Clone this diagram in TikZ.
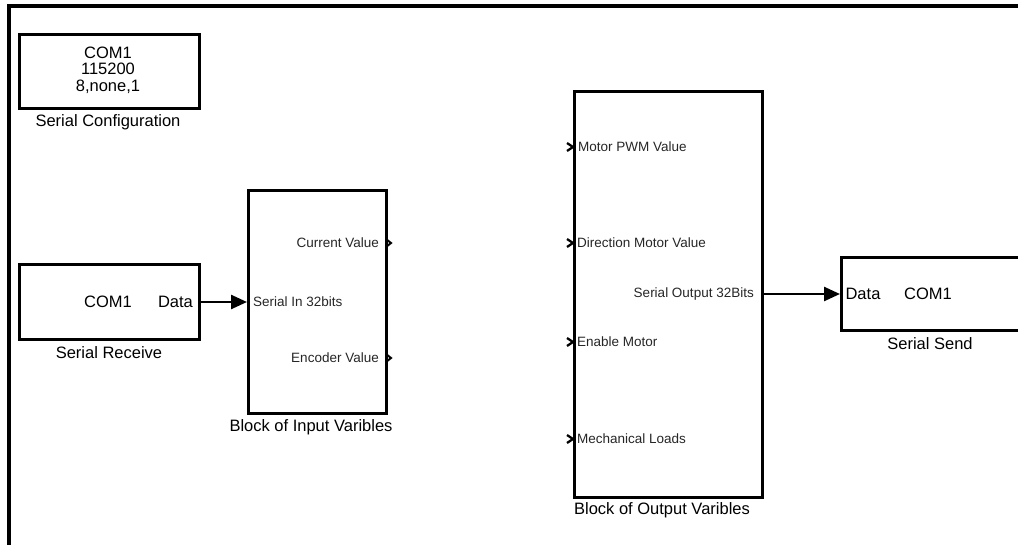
\documentclass[tikz,border=0pt]{standalone}
\usepackage{fontspec}
\setmainfont{Liberation Sans}
\usetikzlibrary{arrows.meta}
\begin{document}
\begin{tikzpicture}[x=1pt,y=-1pt,
  blk/.style={draw, line width=2.7pt, anchor=north west, inner sep=0pt},
  big/.style={font=\fontsize{16.5}{16.5}\selectfont, inner sep=0pt},
  small/.style={font=\fontsize{13.5}{13.5}\selectfont, inner sep=0pt, text=black!85},
  conn/.style={line width=2.5pt, -{Triangle[length=16pt,width=14pt]}},
  oport/.style={line width=2pt},
  iport/.style={line width=2.3pt},
  ]
\useasboundingbox (0,0) rectangle (1018,545);
% frame
\coordinate (fbl) at (9,548);
\coordinate (ftl) at (9,6);
\coordinate (ftr) at (1021,6);
\draw[line width=3.5pt] (fbl) -- (ftl) -- (ftr);

% Serial Configuration
\node[blk, minimum width=180pt, minimum height=74pt] (cfg) at (18,33) {};
\node[big, align=center] (cfgtxt) at (108,70) {COM1\\115200\\8,none,1};
\node[big] (cfglbl) at (108,122) {Serial Configuration};

% Serial Receive
\node[blk, minimum width=180pt, minimum height=75pt] (rcv) at (18,263) {};
\node[big] (rcvcom) at (108,302) {COM1};
\node[big] (rcvdata) at (175.5,302) {Data};
\node[big] (rcvlbl) at (109,353) {Serial Receive};

% Block of Input Varibles
\node[blk, minimum width=138pt, minimum height=223pt] (inb) at (247,189) {};
\node[big] (inblbl) at (311,427) {Block of Input Varibles};
\node[small, anchor=west] (insin) at (253,302) {Serial In 32bits};
\node[small, anchor=east] (incur) at (379,243) {Current Value};
\node[small, anchor=east] (inenc) at (379,358) {Encoder Value};
\coordinate (pcur) at (386,243);
\coordinate (penc) at (386,358);
\draw[oport] ([yshift=-4pt]pcur) -- ([xshift=5pt]pcur) -- ([yshift=4pt]pcur);
\draw[oport] ([yshift=-4pt]penc) -- ([xshift=5pt]penc) -- ([yshift=4pt]penc);

% Block of Output Varibles
\node[blk, minimum width=188pt, minimum height=406pt] (outb) at (573,90) {};
\node[big] (outblbl) at (662,510) {Block of Output Varibles};
\node[small, anchor=west] (opwm) at (578,147) {Motor PWM Value};
\node[small, anchor=west] (odir) at (577,243) {Direction Motor Value};
\node[small, anchor=west] (oena) at (577,342) {Enable Motor};
\node[small, anchor=west] (omech) at (577,439) {Mechanical Loads};
\node[small, anchor=east] (oser) at (754,294) {Serial Output 32Bits};
\foreach \yy/\nm in {147/ppwm,243/pdir,342/pena,439/pmech}{
  \coordinate (\nm) at (567,\yy);
  \draw[iport] ([yshift=-4pt]\nm) -- ([xshift=6pt]\nm) -- ([yshift=4pt]\nm);
}

% Serial Send
\node[blk, minimum width=200pt, minimum height=73pt] (snd) at (840,256) {};
\node[big] (snddata) at (863,294) {Data};
\node[big] (sndcom) at (928,294) {COM1};
\node[big] (sndlbl) at (930,344) {Serial Send};

% connectors
\draw[conn] (rcv.east |- rcvdata) -- (inb.west |- rcvdata);
\draw[conn] (outb.east |- oser) -- (snd.west |- oser);
\end{tikzpicture}
\end{document}
